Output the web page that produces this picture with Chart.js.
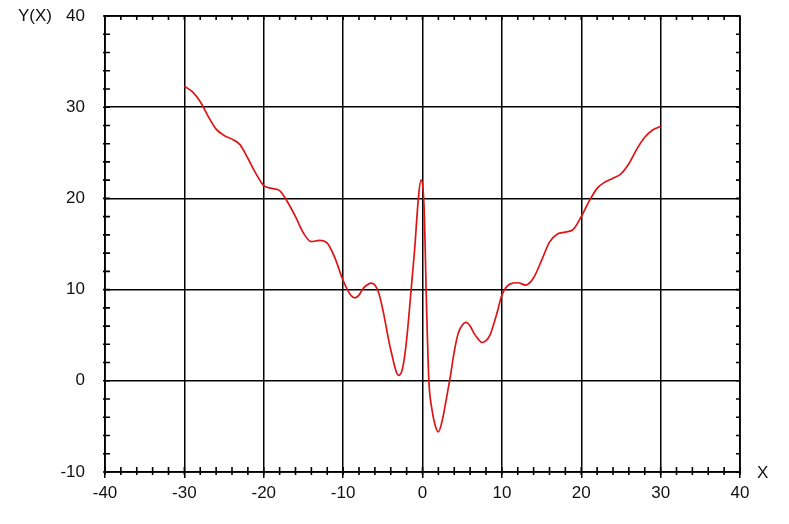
<!DOCTYPE html>
<html lang="en">
<head>
  <meta charset="UTF-8">
  <title>Y(X)</title>
  <script src="https://cdn.jsdelivr.net/npm/chart.js"></script>
  <style>
    body { margin: 0; background: #ffffff; }
    .wrap { position: relative; width: 789px; height: 524px; }
  </style>
</head>
<body>
  <div class="wrap"><canvas id="curveChart" width="789" height="524"></canvas></div>
  <script>
    // data
    const xValues = [-30, -29, -28, -27, -26, -25, -24, -23, -22, -21, -20, -19, -18, -17, -16, -15, -14, -13, -12, -11,
      -10, -9, -8.5, -8, -7.5, -7, -6.5, -6, -5.5, -5, -4, -3, -2.5, -2, -1.5, -1, -0.5, -0.2, 0.2, 0.5, 0.8, 1.2, 1.6, 2, 2.5, 3, 3.5,
      4, 4.5, 5, 5.5, 6, 6.5, 7, 7.5, 8, 8.5, 9, 9.5, 10, 11, 12, 13, 14, 15, 16, 17, 18, 19, 20, 21, 22, 23, 24,
      25, 26, 27, 28, 29, 30];
    const yValues = [32.3, 31.7, 30.6, 29.0, 27.6, 26.9, 26.5, 25.9, 24.4, 22.75, 21.4, 21.1, 20.85, 19.6, 18.0, 16.2, 15.25, 15.4, 15.1, 13.4,
      11.0, 9.35, 9.1, 9.4, 10.1, 10.5, 10.7, 10.5, 9.6, 7.8, 3.4, 0.6, 1.4, 4.5, 9.3, 14.3, 20.2, 22.0, 19.0, 8.5, 0.1, -3.2, -4.9, -5.6, -4.3, -2.0, 0.45,
      3.2, 5.2, 6.1, 6.4, 6.0, 5.2, 4.6, 4.2, 4.4, 5.0, 6.3, 7.8, 9.4, 10.6, 10.75, 10.5, 11.3, 13.2, 15.2, 16.1, 16.3, 16.6,
      18.0, 19.7, 21.1, 21.8, 22.2, 22.7, 23.8, 25.4, 26.7, 27.5, 27.9];
    const xTicks = { min: -40, max: 40, major: 10, minor: 2 };
    const yTicks = { min: -10, max: 40, major: 10, minor: 2 };
    const yTitle = "Y(X)";
    const xTitle = "X";

    const points = xValues.map((x, i) => ({ x: x, y: yValues[i] }));
    const labelFont = { family: "Arial, 'Liberation Sans', sans-serif", size: 17 };

    // box, minor ticks and the two axis names
    const frame = {
      id: "frame",
      afterDraw(chart) {
        const ctx = chart.ctx;
        const a = chart.chartArea;
        const sx = chart.scales.x, sy = chart.scales.y;
        ctx.save();
        ctx.strokeStyle = "#000";
        ctx.lineWidth = 1.6;
        ctx.strokeRect(a.left, a.top, a.right - a.left, a.bottom - a.top);
        ctx.beginPath();
        for (let v = xTicks.min; v <= xTicks.max; v += xTicks.minor) {
          const px = sx.getPixelForValue(v);
          ctx.moveTo(px, a.bottom + 3); ctx.lineTo(px, a.bottom - 5);
          ctx.moveTo(px, a.top); ctx.lineTo(px, a.top + 4);
        }
        for (let v = yTicks.min; v <= yTicks.max; v += yTicks.minor) {
          const py = sy.getPixelForValue(v);
          ctx.moveTo(a.left - 2, py); ctx.lineTo(a.left + 5, py);
          ctx.moveTo(a.right, py); ctx.lineTo(a.right - 4, py);
        }
        ctx.stroke();
        ctx.fillStyle = "#111";
        ctx.font = "17px Arial, 'Liberation Sans', sans-serif";
        ctx.textBaseline = "middle";
        ctx.textAlign = "left";
        ctx.fillText(yTitle, 18, a.top);
        ctx.fillText(xTitle, a.right + 17, a.bottom + 1);
        ctx.restore();
      }
    };

    new Chart(document.getElementById("curveChart"), {
      type: "scatter",
      data: {
        datasets: [{
          data: points,
          showLine: true,
          borderColor: "#dd1515",
          borderWidth: 1.7,
          pointRadius: 0,
          cubicInterpolationMode: "monotone",
          fill: false
        }]
      },
      options: {
        responsive: false,
        animation: false,
        layout: { padding: { top: 16, right: 49, left: 0, bottom: 0 } },
        plugins: { legend: { display: false }, tooltip: { enabled: false } },
        scales: {
          x: {
            type: "linear",
            min: xTicks.min,
            max: xTicks.max,
            afterFit(scale) {
              scale.height = 52;
              scale.paddingLeft = 0;
              scale.paddingRight = 0;
            },
            ticks: { stepSize: xTicks.major, color: "#111", font: labelFont, padding: 5 },
            grid: { color: "#000", lineWidth: 1.5, tickLength: 6, tickColor: "#000" },
            border: { display: false }
          },
          y: {
            type: "linear",
            min: yTicks.min,
            max: yTicks.max,
            afterFit(scale) {
              scale.width = 105;
              scale.paddingTop = 0;
              scale.paddingBottom = 0;
            },
            ticks: { stepSize: yTicks.major, color: "#111", font: labelFont, padding: 14 },
            grid: { color: "#000", lineWidth: 1.5, tickLength: 6, tickColor: "transparent" },
            border: { display: false }
          }
        }
      },
      plugins: [frame]
    });
  </script>
</body>
</html>
